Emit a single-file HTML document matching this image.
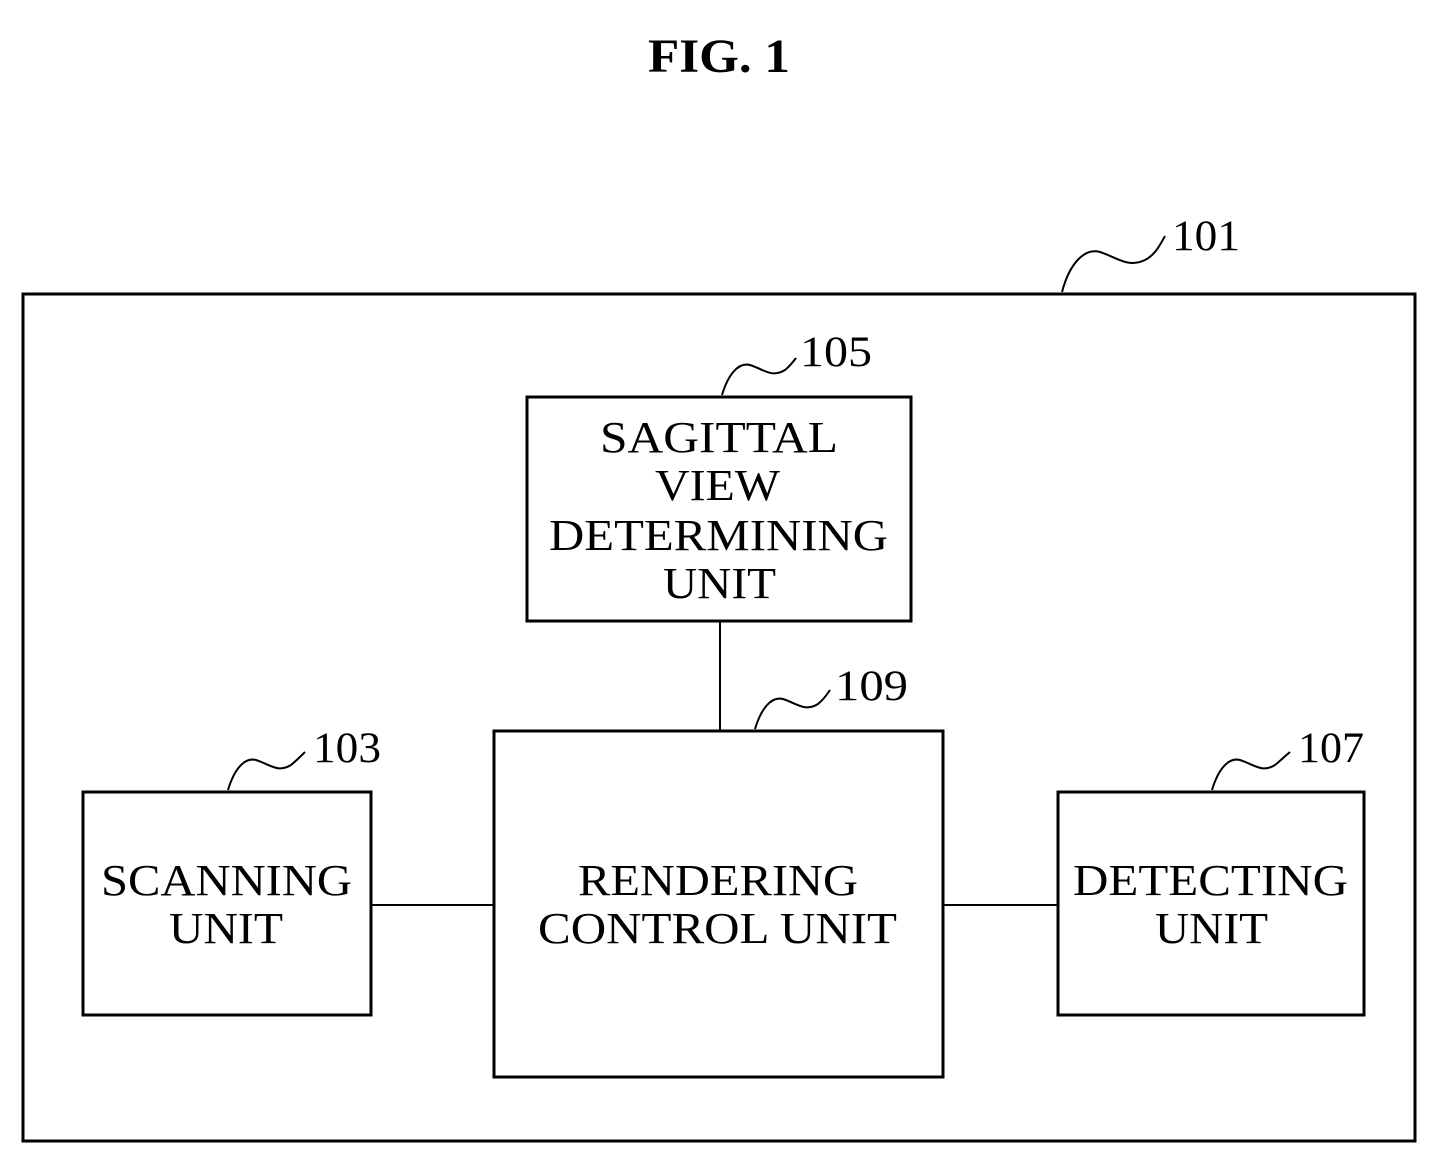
<!DOCTYPE html>
<html><head><meta charset="utf-8"><style>
html,body{margin:0;padding:0;background:#fff;}
svg{display:block;}
text{font-family:"Liberation Serif",serif;fill:#000;}
</style></head><body>
<svg width="1453" height="1169" viewBox="0 0 1453 1169">
<g fill="none" stroke="#000" stroke-width="3">
<rect x="23" y="294" width="1392" height="847"/>
<rect x="527" y="397" width="384" height="224"/>
<rect x="494" y="731" width="449" height="346"/>
<rect x="83" y="792" width="288" height="223"/>
<rect x="1058" y="792" width="306" height="223"/>
</g>
<g fill="none" stroke="#000" stroke-width="2">
<line x1="720" y1="621" x2="720" y2="731"/>
<line x1="371" y1="905" x2="494" y2="905"/>
<line x1="943" y1="905" x2="1058" y2="905"/>
<path d="M1062,292 C1070,262 1085,248 1100,252 C1118,258 1128,268 1145,260 C1155,255 1160,245 1165,236"/>
<path d="M722,395 C728,375 738,362 750,365 C765,370 772,378 785,370 C790,366 793,362 796,358"/>
<path d="M755,729 C761,709 771,696 783,699 C798,704 805,712 818,704 C823,700 826,696 830,690"/>
<path d="M228,790 C234,770 244,757 256,760 C271,765 278,773 291,765 C296,761 300,757 305,752"/>
<path d="M1212,790 C1218,770 1228,757 1240,760 C1255,765 1262,773 1275,765 C1280,761 1284,757 1290,752"/>
</g>
<g lengthAdjust="spacingAndGlyphs">
<text x="648" y="72" font-size="48" font-weight="bold" textLength="142" lengthAdjust="spacingAndGlyphs">FIG. 1</text>
<g font-size="43">
<text x="1172" y="250" textLength="68" lengthAdjust="spacingAndGlyphs">101</text>
<text x="800" y="366" textLength="72" lengthAdjust="spacingAndGlyphs">105</text>
<text x="835" y="700" textLength="73" lengthAdjust="spacingAndGlyphs">109</text>
<text x="313" y="762" textLength="68" lengthAdjust="spacingAndGlyphs">103</text>
<text x="1298" y="762" textLength="66" lengthAdjust="spacingAndGlyphs">107</text>
</g>
<g font-size="44">
<text x="600" y="452" textLength="238" lengthAdjust="spacingAndGlyphs">SAGITTAL</text>
<text x="655" y="500" textLength="125" lengthAdjust="spacingAndGlyphs">VIEW</text>
<text x="549" y="550" textLength="339" lengthAdjust="spacingAndGlyphs">DETERMINING</text>
<text x="663" y="598" textLength="113" lengthAdjust="spacingAndGlyphs">UNIT</text>
<text x="101" y="895" textLength="251" lengthAdjust="spacingAndGlyphs">SCANNING</text>
<text x="169" y="943" textLength="114" lengthAdjust="spacingAndGlyphs">UNIT</text>
<text x="578" y="895" textLength="280" lengthAdjust="spacingAndGlyphs">RENDERING</text>
<text x="538" y="943" textLength="359" lengthAdjust="spacingAndGlyphs">CONTROL UNIT</text>
<text x="1073" y="895" textLength="275" lengthAdjust="spacingAndGlyphs">DETECTING</text>
<text x="1155" y="943" textLength="113" lengthAdjust="spacingAndGlyphs">UNIT</text>
</g>
</g>
</svg>
</body></html>
